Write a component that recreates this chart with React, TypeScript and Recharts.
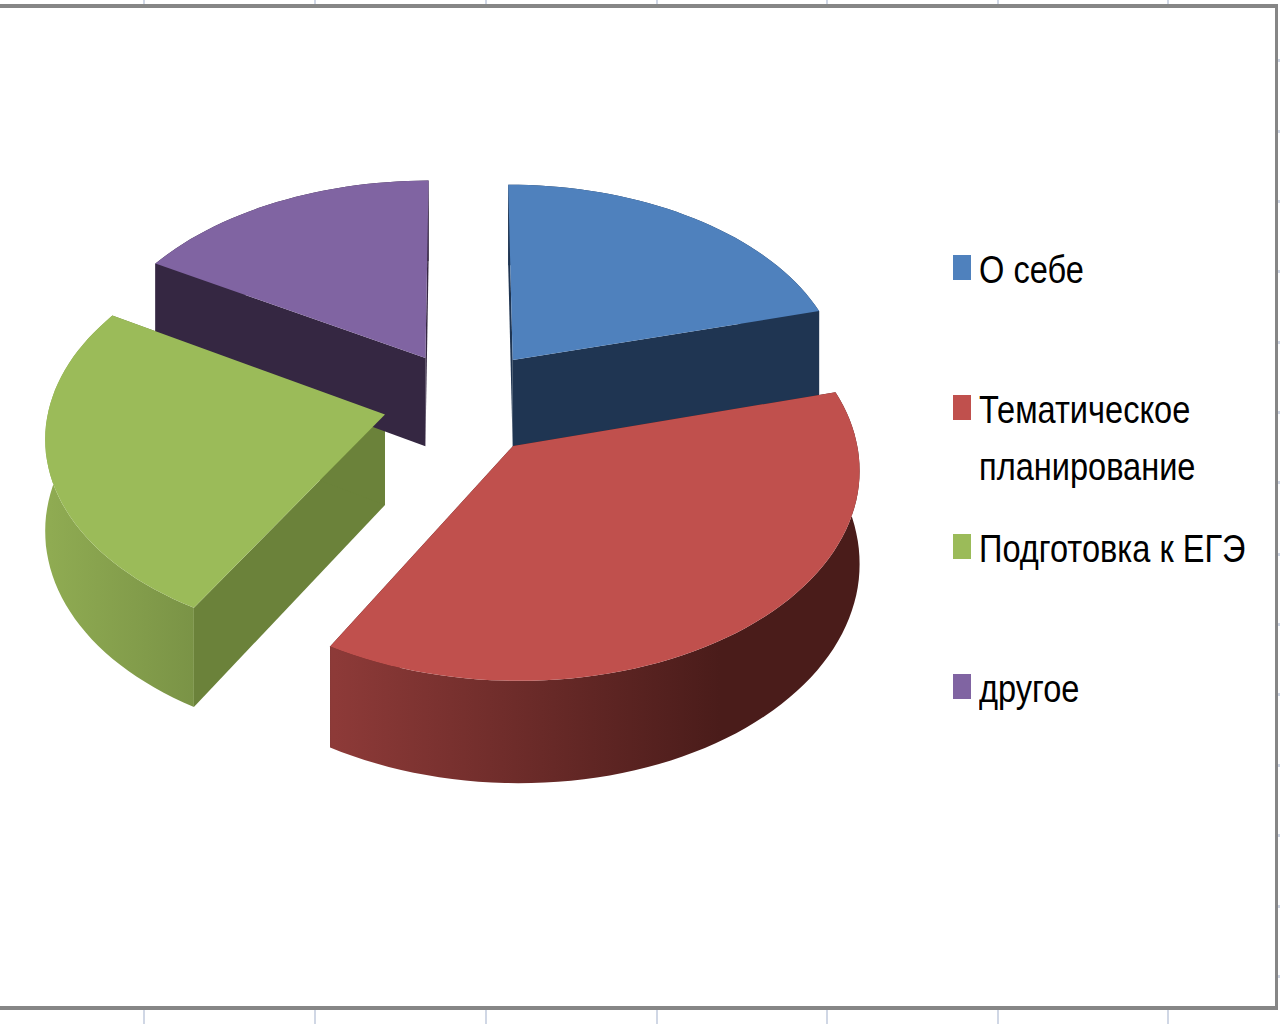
import { Legend, Pie, PieChart } from "recharts";

const CATEGORIES = ["О себе", "Тематическое планирование", "Подготовка к ЕГЭ", "другое"];
const SHARES = [20.8, 37.5, 25.2, 16.5];
const TOP_COLORS = ["#4f81bd", "#c0504d", "#9bbb59", "#8064a2"];

const GRID_TICKS_X = [143, 314, 485, 656, 826, 997, 1167];
const GRID_TICKS_Y = [59, 130, 200, 270, 341, 411, 481, 553, 623, 693, 764, 834, 905, 975];

const PIE_DATA = CATEGORIES.map((name, i) => ({ name, value: SHARES[i], fill: TOP_COLORS[i] }));

// fake 3D look: every slice is pulled out of the centre and projected with a little perspective
const CENTER_X = 462;
const CENTER_Y = 400;
const RADIUS_X = 340;
const RADIUS_Y = 204;
const PERSPECTIVE = 0.1;
const DEPTH = 90;
const PULL_OUT = [
  [0.152, 0.2],
  [0.147, -0.22],
  [-0.225, -0.07],
  [-0.11, 0.21],
];
const SLICE_SCALE = [0.98, 0.99, 0.985, 0.995];
const SIDE_COLORS = ["#1f3552", "#4a1c1a", "#6b823a", "#352742"];
const OUTER_WALL = [
  ["#1f3552", "#1f3552"],
  ["#8d3a38", "#4a1c1a"],
  ["#8fab52", "#7a9346"],
  ["#352742", "#352742"],
];

const project = (index: number, angle: number, r: number, down: boolean) => {
  const rad = (angle * Math.PI) / 180;
  const len = r * SLICE_SCALE[index];
  const u = PULL_OUT[index][0] + len * Math.cos(rad);
  const v = PULL_OUT[index][1] + len * Math.sin(rad);
  const p = 1 / (1 + PERSPECTIVE * v);
  return {
    x: CENTER_X + RADIUS_X * u * p,
    y: CENTER_Y - RADIUS_Y * v * p + (down ? DEPTH * p : 0),
  };
};

const arcPoints = (index: number, start: number, end: number, down: boolean) => {
  const steps = Math.max(2, Math.ceil(Math.abs(end - start) / 2));
  const pts = [];
  for (let s = 0; s <= steps; s++) {
    pts.push(project(index, start + ((end - start) * s) / steps, 1, down));
  }
  return pts;
};

const toPath = (pts: { x: number; y: number }[]) =>
  "M" + pts.map((p) => `${p.x.toFixed(1)},${p.y.toFixed(1)}`).join("L") + "Z";

const sliceIndex = (props: any) => CATEGORIES.indexOf(props.name ?? props.payload?.name);

const WallShape = (props: any) => {
  const i = sliceIndex(props);
  const { startAngle, endAngle } = props;
  const top = arcPoints(i, startAngle, endAngle, false);
  const bottom = arcPoints(i, startAngle, endAngle, true);
  const apexTop = project(i, 0, 0, false);
  const apexBottom = project(i, 0, 0, true);
  const gradId = `wall-${i}`;
  return (
    <g>
      <defs>
        <linearGradient id={gradId} gradientUnits="userSpaceOnUse" x1={i === 1 ? 335 : 50} x2={i === 1 ? 720 : 195} y1={0} y2={0}>
          <stop offset="0%" stopColor={OUTER_WALL[i][0]} />
          <stop offset="100%" stopColor={OUTER_WALL[i][1]} />
        </linearGradient>
      </defs>
      <path d={toPath([apexTop, top[0], project(i, startAngle, 1, true), apexBottom])} fill={SIDE_COLORS[i]} />
      <path d={toPath([apexTop, top[top.length - 1], project(i, endAngle, 1, true), apexBottom])} fill={SIDE_COLORS[i]} />
      <path d={toPath([...top, ...bottom.reverse()])} fill={`url(#${gradId})`} />
    </g>
  );
};

const TopShape = (props: any) => {
  const i = sliceIndex(props);
  const top = arcPoints(i, props.startAngle, props.endAngle, false);
  return <path d={toPath([project(i, 0, 0, false), ...top])} fill={TOP_COLORS[i]} />;
};

const LegendBox = () => (
  <div style={{ fontFamily: "'Liberation Sans', sans-serif", fontSize: 39, lineHeight: "57px", color: "#000" }}>
    {CATEGORIES.map((label, i) => (
      <div key={label} style={{ display: "flex", height: 139.5 }}>
        <div style={{ width: 18, height: 25, marginTop: 14, marginRight: 8, background: TOP_COLORS[i], flexShrink: 0 }} />
        <div style={{ width: 370, flexShrink: 0, transform: "scaleX(0.835)", transformOrigin: "left top" }}>{label}</div>
      </div>
    ))}
  </div>
);

export default function App() {
  return (
    <div style={{ position: "absolute", left: 0, top: 0, width: 1280, height: 1024, background: "#fff", overflow: "hidden" }}>
      {GRID_TICKS_X.map((x) => (
        <div key={x}>
          <div style={{ position: "absolute", left: x, top: 0, width: 2, height: 4, background: "#d0d7e5" }} />
          <div style={{ position: "absolute", left: x, top: 1010, width: 2, height: 14, background: "#d0d7e5" }} />
        </div>
      ))}
      {GRID_TICKS_Y.map((y) => (
        <div key={y} style={{ position: "absolute", left: 1278, top: y, width: 2, height: 3, background: "#d0d7e5" }} />
      ))}
      <div style={{ position: "absolute", left: 0, top: 4, width: 1278, height: 4, background: "#868686" }} />
      <div style={{ position: "absolute", left: 0, top: 1006, width: 1278, height: 4, background: "#868686" }} />
      <div style={{ position: "absolute", left: 1275, top: 4, width: 3, height: 1006, background: "#868686" }} />
      <div style={{ position: "absolute", left: 0, top: 0 }}>
        <PieChart width={1280} height={1024} margin={{ top: 0, right: 0, bottom: 0, left: 0 }}>
          <Pie
            data={PIE_DATA}
            dataKey="value"
            nameKey="name"
            cx={CENTER_X}
            cy={CENTER_Y}
            outerRadius={RADIUS_X}
            startAngle={90}
            endAngle={-270}
            stroke="none"
            legendType="none"
            isAnimationActive={false}
            shape={WallShape}
          />
          <Pie
            data={PIE_DATA}
            dataKey="value"
            nameKey="name"
            cx={CENTER_X}
            cy={CENTER_Y}
            outerRadius={RADIUS_X}
            startAngle={90}
            endAngle={-270}
            stroke="none"
            isAnimationActive={false}
            shape={TopShape}
          />
          <Legend content={<LegendBox />} wrapperStyle={{ left: 953, top: 241, width: 320, bottom: "auto" }} />
        </PieChart>
      </div>
    </div>
  );
}
